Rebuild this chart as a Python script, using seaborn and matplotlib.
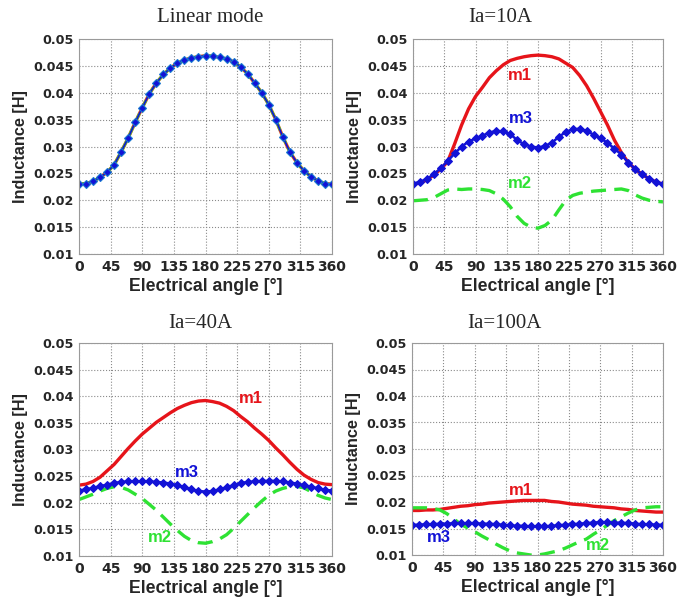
import numpy as np
import pandas as pd
import matplotlib
matplotlib.use("Agg")
import matplotlib.pyplot as plt
import seaborn as sns

angles = list(range(0, 361, 10))

# Linear mode (all three coincide)
lin = [0.0230, 0.0231, 0.0235, 0.0243, 0.0252, 0.0266, 0.0290, 0.0316, 0.0345, 0.0372,
       0.0398, 0.0418, 0.0434, 0.0446, 0.0455, 0.0461, 0.0465, 0.0467, 0.0469, 0.0468,
       0.0466, 0.0463, 0.0458, 0.0448, 0.0435, 0.0418, 0.0400, 0.0378, 0.0350, 0.0318,
       0.0290, 0.0270, 0.0255, 0.0244, 0.0236, 0.0231, 0.0230]

# Ia = 10A
m1_10 = [0.0230, 0.0232, 0.0238, 0.0247, 0.0258, 0.0272, 0.0305, 0.0340, 0.0370, 0.0393,
         0.0410, 0.0428, 0.0441, 0.0452, 0.0460, 0.0464, 0.0467, 0.0469, 0.0470, 0.0469,
         0.0467, 0.0463, 0.0455, 0.0447, 0.0432, 0.0413, 0.0390, 0.0365, 0.0340, 0.0312,
         0.0289, 0.0270, 0.0258, 0.0248, 0.0240, 0.0234, 0.0230]
m3_10 = [0.0231, 0.0234, 0.0240, 0.0248, 0.0260, 0.0273, 0.0287, 0.0300, 0.0309, 0.0315,
         0.0320, 0.0326, 0.0329, 0.0328, 0.0323, 0.0312, 0.0304, 0.0300, 0.0298, 0.0301,
         0.0307, 0.0318, 0.0327, 0.0332, 0.0333, 0.0329, 0.0322, 0.0315, 0.0307, 0.0296,
         0.0285, 0.0270, 0.0258, 0.0248, 0.0240, 0.0234, 0.0230]
m2_10 = [0.0199, 0.0200, 0.0201, 0.0205, 0.0212, 0.0219, 0.0221, 0.0220, 0.0221, 0.0221,
         0.0220, 0.0218, 0.0212, 0.0202, 0.0188, 0.0170, 0.0157, 0.0150, 0.0148, 0.0153,
         0.0163, 0.0182, 0.0200, 0.0209, 0.0213, 0.0215, 0.0217, 0.0218, 0.0219, 0.0220,
         0.0221, 0.0218, 0.0210, 0.0204, 0.0200, 0.0198, 0.0197]

# Ia = 40A
m1_40 = [0.0233, 0.0235, 0.0240, 0.0248, 0.0260, 0.0272, 0.0287, 0.0302, 0.0316, 0.0329,
         0.0340, 0.0351, 0.0360, 0.0369, 0.0377, 0.0383, 0.0388, 0.0391, 0.0392, 0.0390,
         0.0387, 0.0381, 0.0373, 0.0362, 0.0352, 0.0340, 0.0329, 0.0317, 0.0303, 0.0290,
         0.0276, 0.0263, 0.0252, 0.0244, 0.0238, 0.0235, 0.0234]
m3_40 = [0.0223, 0.0225, 0.0228, 0.0231, 0.0234, 0.0237, 0.0239, 0.0240, 0.0240, 0.0240,
         0.0240, 0.0239, 0.0238, 0.0236, 0.0233, 0.0229, 0.0225, 0.0222, 0.0221, 0.0222,
         0.0225, 0.0229, 0.0233, 0.0237, 0.0239, 0.0240, 0.0241, 0.0241, 0.0241, 0.0240,
         0.0238, 0.0236, 0.0233, 0.0230, 0.0227, 0.0224, 0.0223]
m2_40 = [0.0206, 0.0211, 0.0216, 0.0222, 0.0227, 0.0230, 0.0229, 0.0224, 0.0216, 0.0208,
         0.0197, 0.0186, 0.0173, 0.0160, 0.0148, 0.0137, 0.0129, 0.0125, 0.0124, 0.0127,
         0.0132, 0.0140, 0.0152, 0.0165, 0.0178, 0.0191, 0.0203, 0.0214, 0.0222, 0.0227,
         0.0230, 0.0231, 0.0228, 0.0221, 0.0214, 0.0209, 0.0206]

# Ia = 100A
m1_100 = [0.0184, 0.0184, 0.0185, 0.0185, 0.0186, 0.0188, 0.0190, 0.0192, 0.0193, 0.0195,
          0.0196, 0.0198, 0.0199, 0.0200, 0.0201, 0.0202, 0.0203, 0.0203, 0.0203, 0.0203,
          0.0201, 0.0200, 0.0198, 0.0196, 0.0195, 0.0194, 0.0192, 0.0191, 0.0190, 0.0189,
          0.0187, 0.0186, 0.0184, 0.0183, 0.0182, 0.0181, 0.0181]
m3_100 = [0.0157, 0.0157, 0.0158, 0.0158, 0.0159, 0.0159, 0.0160, 0.0160, 0.0160, 0.0160,
          0.0159, 0.0159, 0.0158, 0.0157, 0.0156, 0.0155, 0.0155, 0.0154, 0.0154, 0.0154,
          0.0155, 0.0156, 0.0157, 0.0158, 0.0159, 0.0160, 0.0161, 0.0162, 0.0162, 0.0161,
          0.0161, 0.0160, 0.0159, 0.0158, 0.0158, 0.0157, 0.0157]
m2_100 = [0.0189, 0.0189, 0.0189, 0.0188, 0.0185, 0.0178, 0.0168, 0.0158, 0.0151, 0.0144,
          0.0136, 0.0129, 0.0121, 0.0114, 0.0108, 0.0104, 0.0102, 0.0100, 0.0100, 0.0102,
          0.0105, 0.0108, 0.0113, 0.0119, 0.0125, 0.0130, 0.0139, 0.0147, 0.0156, 0.0165,
          0.0172, 0.0179, 0.0185, 0.0189, 0.0190, 0.0191, 0.0191]

titles = ["Linear mode", "Ia=10A", "Ia=40A", "Ia=100A"]
curve_names = ["m1", "m2", "m3"]
x_ticks = [0, 45, 90, 135, 180, 225, 270, 315, 360]
y_ticks = [0.01, 0.015, 0.02, 0.025, 0.03, 0.035, 0.04, 0.045, 0.05]
y_tick_labels = ["0.01", "0.015", "0.02", "0.025", "0.03", "0.035", "0.04", "0.045", "0.05"]
panels = [(lin, lin, lin), (m1_10, m2_10, m3_10), (m1_40, m2_40, m3_40), (m1_100, m2_100, m3_100)]
label_pos = [None,
             [(154, 0.0432), (154, 0.0231), (155, 0.0352)],
             [(244, 0.0395), (115, 0.0134), (154, 0.0256)],
             [(156, 0.0222), (266, 0.0118), (38, 0.0133)]]
title_x = [0.518, 0.348, 0.478, 0.37]

RED = "#e6141a"
GREEN = "#2ee233"
BLUE = "#1212d6"

sns.set_style("white")
plt.rcParams['font.family'] = ['Liberation Sans', 'DejaVu Sans']

fig = plt.figure(figsize=(6.92, 6.0), dpi=100)
rects = [(79, 39, 332, 254), (413, 39, 663, 254), (79, 343, 332, 556), (412, 343, 663, 555)]
title_y_px = [17, 17, 323, 323]
W, H = 692, 600
axes = []
for (l, t, r, b) in rects:
    axes.append(fig.add_axes([l / W, 1 - b / H, (r - l) / W, (b - t) / H]))

for i, ax in enumerate(axes):
    m1, m2, m3 = panels[i]
    df = pd.DataFrame({"angle": angles, "m1": m1, "m2": m2, "m3": m3})
    if i == 0:
        sns.lineplot(data=df, x="angle", y="m1", ax=ax, color="#d4541c", lw=2.4)
        sns.lineplot(data=df, x="angle", y="m2", ax=ax, color="#4cd22c", lw=2.0, linestyle="--")
        sns.lineplot(data=df, x="angle", y="m3", ax=ax, color=BLUE, lw=1.2, marker="D",
                     markersize=3.8, markeredgecolor="#1a7ad0", markeredgewidth=0.8)
    else:
        sns.lineplot(data=df, x="angle", y="m1", ax=ax, color=RED, lw=2.4)
        sns.lineplot(data=df, x="angle", y="m2", ax=ax, color=GREEN, lw=2.4, linestyle=(0, (4.5, 2.5)))
        sns.lineplot(data=df, x="angle", y="m3", ax=ax, color=BLUE, lw=1.8, marker="D",
                     markersize=3.8, markeredgecolor=BLUE)
        cols = [RED, GREEN, BLUE]
        for (lx, ly), name, c in zip(label_pos[i], curve_names, cols):
            ax.text(lx, ly, name, color=c, fontsize=12, fontweight="bold", ha="center", va="center")
    ax.set_xlim(0, 360)
    ax.set_ylim(0.01, 0.05)
    ax.set_xticks(x_ticks)
    ax.set_xticklabels([str(v) for v in x_ticks], family=["DejaVu Sans"], fontweight="bold", fontsize=10)
    ax.set_yticks(y_ticks)
    ax.set_yticklabels(y_tick_labels, family=["DejaVu Sans"], fontweight="bold", fontsize=9.2)
    ax.grid(True, linestyle=":", color="#8a8a8a", lw=0.8)
    ax.tick_params(length=0, pad=4)
    for s in ax.spines.values():
        s.set_color("#9a9a9a")
        s.set_linewidth(0.8)
    ax.set_xlabel("Electrical angle [°]", fontsize=12.7, fontweight="bold", labelpad=3)
    ax.set_ylabel("Inductance [H]", fontsize=11.7, fontweight="bold", labelpad=4)
    fig.text(rects[i][0] / W + title_x[i] * (rects[i][2] - rects[i][0]) / W,
             1 - title_y_px[i] / H, titles[i], family=["Liberation Serif"], fontsize=15,
             ha="center", va="center")

fig.savefig("out.png", dpi=100)
